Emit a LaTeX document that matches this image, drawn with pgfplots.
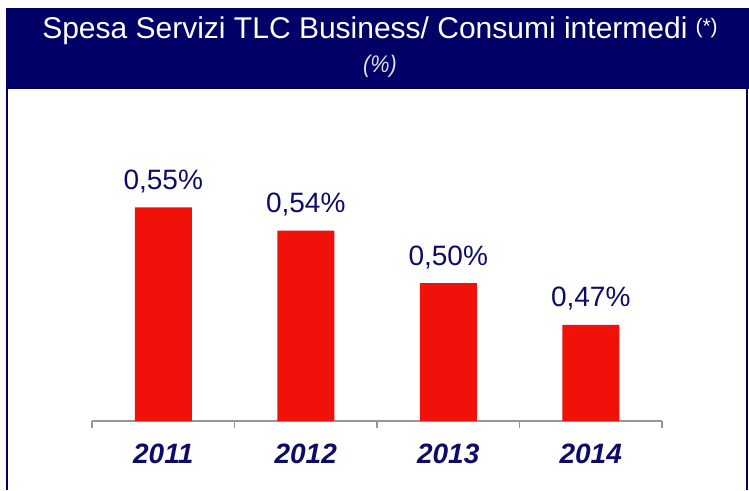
\documentclass[border=0pt]{standalone}
\usepackage{fontspec}
\setmainfont{Liberation Sans}
\newfontfamily\narrowfont[FakeStretch=0.9]{Liberation Sans}
\usepackage{pgfplots}
\pgfplotsset{compat=1.18}
\definecolor{navy}{RGB}{0,0,102}
\definecolor{lblnavy}{RGB}{12,12,104}
\definecolor{barred}{RGB}{240,18,10}
\definecolor{axgray}{RGB}{150,150,150}
\begin{document}
\begin{tikzpicture}[x=1pt,y=1pt]
\fill[navy] (6,401) rectangle (749,482);
\draw[navy,line width=2pt] (6.5,401) -- (6.5,0);
\draw[navy,line width=2pt] (746.5,401) -- (746.5,0);
\node[text=white,anchor=base,inner sep=0pt,font={\fontsize{30}{34}\selectfont}] at (380,451) {Spesa Servizi TLC Business/ Consumi intermedi\hspace{8pt}\raisebox{5pt}{\fontsize{21}{24}\selectfont(*)}};
\node[text={rgb,255:red,225;green,225;blue,238},anchor=base,inner sep=0pt,font={\narrowfont\itshape\fontsize{24}{28}\selectfont}] at (380,417) {(\%)};
\begin{axis}[
  at={(92pt,69pt)}, anchor=south west,
  scale only axis, width=570pt, height=321pt,
  xmin=-0.5, xmax=3.5, ymin=0.40, ymax=0.625,
  axis x line*=bottom, axis y line=none,
  axis line style={axgray, line width=1.2pt},
  xtick={0,1,2,3},
  xticklabels={2011,2012,2013,2014},
  major tick length=0pt,
  minor xtick={-0.5,0.5,1.5,2.5,3.5},
  minor tick length=7pt,
  tick align=outside,
  minor tick style={axgray, line width=1.2pt},
  xticklabel style={font=\fontsize{28}{32}\selectfont\bfseries\itshape, text=lblnavy, anchor=base, yshift=-42pt},
  ytick=\empty,
  clip=false,
  point meta=explicit symbolic,
  nodes near coords,
  every node near coord/.append style={font=\fontsize{28}{32}\selectfont, text=lblnavy, anchor=base, yshift=18pt},
]
\addplot[ybar, bar width=57pt, fill=barred, draw=none] coordinates {
  (0,0.5497) [{0,55\%}]
  (1,0.5335) [{0,54\%}]
  (2,0.4967) [{0,50\%}]
  (3,0.4673) [{0,47\%}]
};
\end{axis}
\pgfresetboundingbox
\path[use as bounding box] (0,0) rectangle (749,490);
\end{tikzpicture}
\end{document}
